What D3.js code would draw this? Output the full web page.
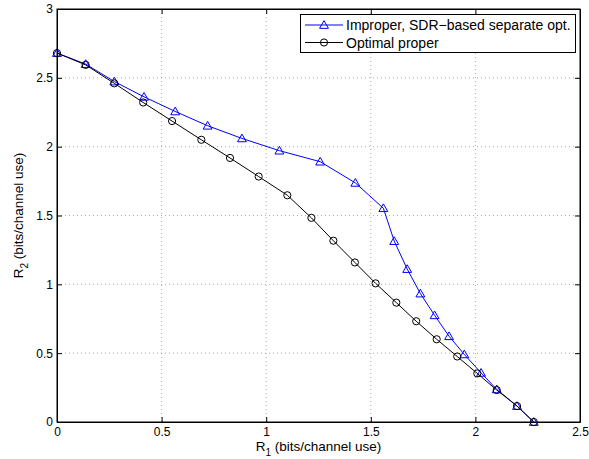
<!DOCTYPE html>
<html>
<head>
<meta charset="utf-8">
<script src="https://cdn.jsdelivr.net/npm/d3@7"></script>
<style>
  html, body { margin: 0; padding: 0; background: #fff; }
  svg { display: block; font-family: "Liberation Sans", Arial, Helvetica, sans-serif; }
</style>
</head>
<body>
<svg id="chart" width="589" height="459"></svg>
<script>
// ---- data ----
const seriesNames = ["Improper, SDR\u2212based separate opt.", "Optimal proper"];
const improperR1 = [0, 0.137, 0.274, 0.416, 0.565, 0.72, 0.884, 1.063, 1.258, 1.426, 1.56, 1.612, 1.674, 1.737, 1.805, 1.874, 1.947, 2.027, 2.102, 2.199, 2.279];
const improperR2 = [2.68, 2.6, 2.473, 2.362, 2.256, 2.152, 2.06, 1.971, 1.891, 1.737, 1.553, 1.314, 1.111, 0.933, 0.775, 0.623, 0.491, 0.357, 0.237, 0.116, 0];
const properR1 = [0, 0.137, 0.274, 0.412, 0.55, 0.69, 0.827, 0.964, 1.101, 1.216, 1.321, 1.424, 1.523, 1.622, 1.717, 1.815, 1.913, 2.009, 2.102, 2.199, 2.279];
const properR2 = [2.68, 2.594, 2.46, 2.321, 2.186, 2.05, 1.918, 1.783, 1.647, 1.483, 1.317, 1.159, 1.007, 0.867, 0.732, 0.601, 0.476, 0.353, 0.232, 0.116, 0];
const xTicks = [0, 0.5, 1, 1.5, 2, 2.5];
const yTicks = [0, 0.5, 1, 1.5, 2, 2.5, 3];

// ---- layout ----
const svg = d3.select("#chart");
const L = 57, R = 580, T = 9, B = 422;
const x = d3.scaleLinear().domain([0, 2.5]).range([L, R]);
const y = d3.scaleLinear().domain([0, 3]).range([B, T]);

// grid
const grid = svg.append("g").attr("stroke", "#000").attr("stroke-width", 0.6)
  .attr("stroke-dasharray", "1,3").attr("opacity", 0.55);
xTicks.slice(1, -1).forEach(v => grid.append("line")
  .attr("x1", x(v)).attr("x2", x(v)).attr("y1", B).attr("y2", T));
yTicks.slice(1, -1).forEach(v => grid.append("line")
  .attr("y1", y(v)).attr("y2", y(v)).attr("x1", L).attr("x2", R));

// axes (MATLAB style: inward ticks on all sides)
const fmt = d => String(d);
const axB = d3.axisBottom(x).tickValues(xTicks).tickFormat(fmt).tickSizeInner(-5).tickSizeOuter(0).tickPadding(5);
const axT = d3.axisTop(x).tickValues(xTicks).tickFormat("").tickSizeInner(-5).tickSizeOuter(0);
const axL = d3.axisLeft(y).tickValues(yTicks).tickFormat(fmt).tickSizeInner(-5).tickSizeOuter(0).tickPadding(4);
const axR = d3.axisRight(y).tickValues(yTicks).tickFormat("").tickSizeInner(-5).tickSizeOuter(0);

function style(g) {
  g.selectAll("path").attr("stroke", "#000").attr("stroke-width", 1);
  g.selectAll("line").attr("stroke", "#000").attr("stroke-width", 1);
  g.selectAll("text").attr("fill", "#000").style("font-size", "12px").style("font-family", "Liberation Sans, Arial, sans-serif");
}
svg.append("g").attr("transform", `translate(0,${B})`).call(axB).call(style);
svg.append("g").attr("transform", `translate(0,${T})`).call(axT).call(style);
svg.append("g").attr("transform", `translate(${L},0)`).call(axL).call(style);
svg.append("g").attr("transform", `translate(${R},0)`).call(axR).call(style);
svg.append("rect").attr("x", L).attr("y", T).attr("width", R - L).attr("height", B - T)
  .attr("fill", "none").attr("stroke", "#000").attr("stroke-width", 1);

// series
const improper = improperR1.map((v, i) => [v, improperR2[i]]);
const proper = properR1.map((v, i) => [v, properR2[i]]);
const line = d3.line().x(d => x(d[0])).y(d => y(d[1]));
const triSym = d3.symbol().type(d3.symbolTriangle).size(34);

function drawSeries(data, color, marker) {
  const g = svg.append("g");
  g.append("path").datum(data).attr("d", line).attr("fill", "none")
    .attr("stroke", color).attr("stroke-width", 1);
  if (marker === "tri") {
    g.selectAll("path.m").data(data).enter().append("path").attr("class", "m")
      .attr("d", triSym).attr("transform", d => `translate(${x(d[0])},${y(d[1]) + 0.8})`)
      .attr("fill", "none").attr("stroke", color).attr("stroke-width", 1);
  } else {
    g.selectAll("circle").data(data).enter().append("circle")
      .attr("cx", d => x(d[0])).attr("cy", d => y(d[1])).attr("r", 3.6)
      .attr("fill", "none").attr("stroke", color).attr("stroke-width", 1);
  }
}
drawSeries(improper, "#0000ff", "tri");
drawSeries(proper, "#000000", "circ");

// axis labels
const xl = svg.append("text").attr("x", (L + R) / 2).attr("y", 451).attr("text-anchor", "middle")
  .style("font-size", "13.5px").attr("fill", "#000");
xl.append("tspan").text("R");
xl.append("tspan").attr("dy", 5).style("font-size", "10px").text("1");
xl.append("tspan").attr("dy", -5).text(" (bits/channel use)");

const yl = svg.append("text").attr("transform", `translate(23,${(T + B) / 2}) rotate(-90)`)
  .attr("text-anchor", "middle").style("font-size", "13.5px").attr("fill", "#000");
yl.append("tspan").text("R");
yl.append("tspan").attr("dy", 5).style("font-size", "10px").text("2");
yl.append("tspan").attr("dy", -5).text(" (bits/channel use)");

// legend
const lg = svg.append("g");
lg.append("rect").attr("x", 300.5).attr("y", 14.5).attr("width", 275).attr("height", 38)
  .attr("fill", "#fff").attr("stroke", "#000").attr("stroke-width", 1);
const rows = [
  { name: seriesNames[0], color: "#0000ff", marker: "tri", yy: 25 },
  { name: seriesNames[1], color: "#000000", marker: "circ", yy: 42.5 }
];
rows.forEach(r => {
  lg.append("line").attr("x1", 305).attr("x2", 343).attr("y1", r.yy).attr("y2", r.yy)
    .attr("stroke", r.color).attr("stroke-width", 1);
  if (r.marker === "tri") {
    lg.append("path").attr("d", triSym()).attr("transform", `translate(324,${r.yy + 0.8})`)
      .attr("fill", "none").attr("stroke", r.color);
  } else {
    lg.append("circle").attr("cx", 324).attr("cy", r.yy).attr("r", 3.6)
      .attr("fill", "none").attr("stroke", r.color);
  }
  lg.append("text").attr("x", 346).attr("y", r.yy + 5).style("font-size", "14px")
    .attr("fill", "#000").text(r.name);
});
</script>
</body>
</html>
